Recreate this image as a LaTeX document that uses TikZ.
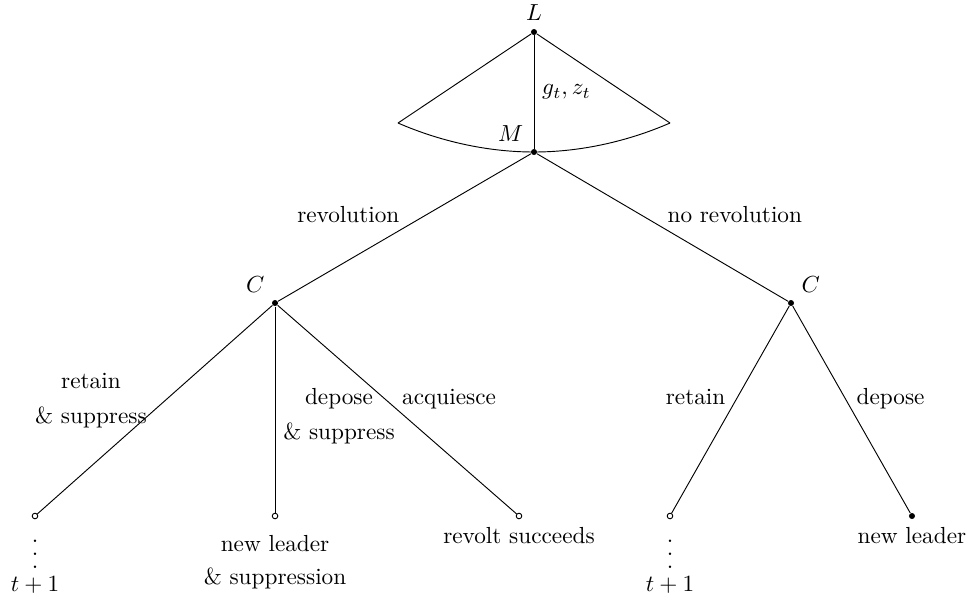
\documentclass[tikz,border=0pt]{standalone}
\usepackage{amsmath}
\usepackage{amssymb}
\usetikzlibrary{positioning}
\newcommand{\tallvdots}{\vbox{\baselineskip5.6pt\lineskiplimit0pt\hbox{.}\hbox{.}\hbox{.}}}
\begin{document}
\begin{tikzpicture}[
  dec/.style={circle,fill,inner sep=0pt,minimum size=2.6pt},
  leaf/.style={circle,draw,fill=white,inner sep=0pt,minimum size=2.4pt},
  elab/.style={inner sep=2pt,text depth=0pt},
  act/.style={align=center},
  outc/.style={align=center}
]
\useasboundingbox (-8.073,-8.587) rectangle (6.576,0.484);
% leader and mass
\node[dec,label=above:$L$] (L) at (0,0) {};
\node[dec,label=above left:$M$] (M) at (0,-1.814) {};
\coordinate (fl) at (-2.056,-1.376);
\coordinate (fr) at (2.056,-1.376);
\draw (L) -- (fl);
\draw (L) -- (fr);
\draw (fl) parabola bend (M) (fr);
\draw (L) -- (M) node[midway,right] {$g_t, z_t$};
% coalition
\node[dec,label=above left:$C$] (C1) at (-3.915,-4.097) {};
\node[dec,label=above right:$C$] (C2) at (3.885,-4.097) {};
\draw (M) -- (C1) node[midway,above left,elab] {revolution};
\draw (M) -- (C2) node[midway,above right,elab] {no revolution};
% outcomes
\node[leaf] (r1) at (-7.544,-7.317) {};
\node[leaf] (r2) at (-3.915,-7.317) {};
\node[leaf] (r3) at (-0.227,-7.317) {};
\node[leaf] (n1) at (2.056,-7.317) {};
\node[dec] (n2) at (5.714,-7.317) {};
\draw (C1) -- (r1) node[midway,left,yshift=4pt,act] {retain\\[3pt]\& suppress};
\draw (C1) -- (r2) node[midway,right,yshift=-3pt,act] {depose\\[3pt]\& suppress};
\draw (C1) -- (r3) node[midway,above right,elab] {acquiesce};
\draw (C2) -- (n1) node[midway,above left,elab] {retain};
\draw (C2) -- (n2) node[midway,above right,elab] {depose};
\node[outc,below=5.3pt of r1] (t1) {\tallvdots\\[-2pt]$t+1$};
\node[outc,below=3.5pt of r2] (o2) {new leader\\[2pt]\& suppression};
\node[below=0pt of r3] (o3) {revolt succeeds};
\node[outc,below=5.3pt of n1] (t2) {\tallvdots\\[-2pt]$t+1$};
\node[below=0pt of n2] (o5) {new leader};
\end{tikzpicture}
\end{document}
